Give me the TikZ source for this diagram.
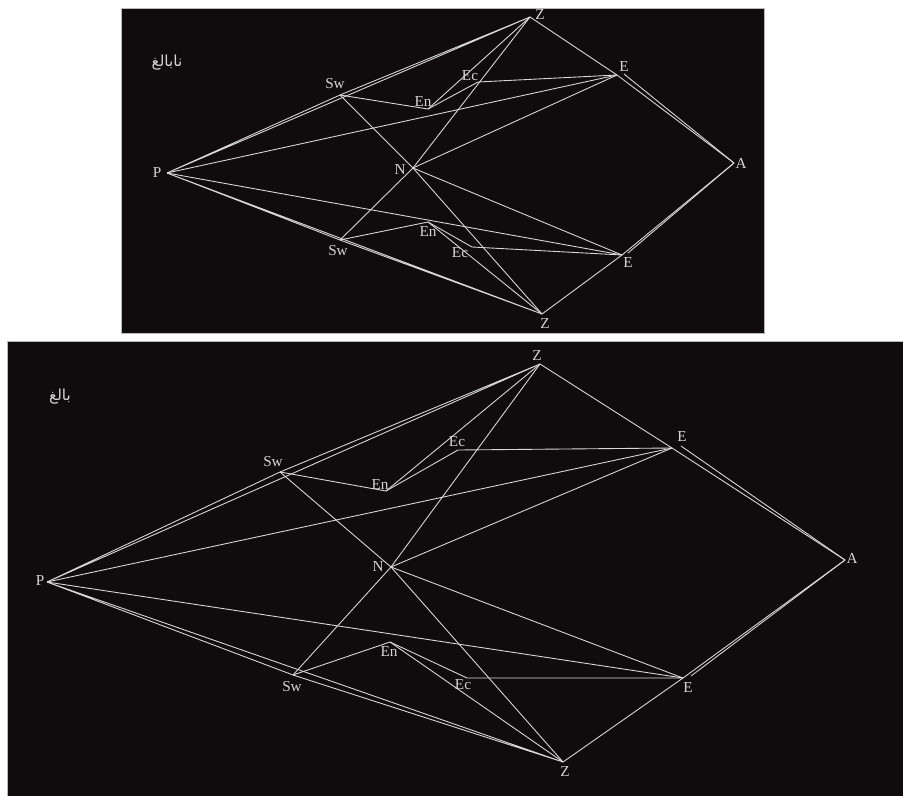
\documentclass[tikz,border=0pt]{standalone}
\usepackage{fontspec}
\usepackage{tikz}
\setmainfont{Liberation Serif}
\newfontfamily\arabicfont[Script=Arabic]{DejaVu Sans}
\TeXXeTstate=1
\definecolor{board}{HTML}{100C0E}
\definecolor{trace}{HTML}{D8D8D8}
\definecolor{mark}{HTML}{D4D4D4}
\tikzset{
  panel/.style={fill=board, draw=gray!55, line width=0.5pt},
  edge/.style={draw=trace, line width=0.75pt},
  lbl/.style={text=mark, inner sep=0pt, font=\fontsize{13}{13}\selectfont},
  tag/.style={text=mark, inner sep=0pt, font=\arabicfont\fontsize{13}{13}\selectfont},
}

\begin{document}
\begin{tikzpicture}[x=0.03cm, y=-0.03cm]

  \useasboundingbox (0,0) rectangle (903,796);
  \path[panel] (121,8) rectangle (764,333);
  \path[panel] (7,341) rectangle (903,796);

  % immature (top)
  \coordinate (tP)    at (167,173);
  \coordinate (tSwu)  at (340,95);
  \coordinate (tEnu)  at (428,109);
  \coordinate (tEcu)  at (478,82);
  \coordinate (tEu)   at (617,75);
  \coordinate (tEu2)  at (624,74);
  \coordinate (tZu)   at (530,17);
  \coordinate (tA)    at (734,163);
  \coordinate (tN)    at (413,168);
  \coordinate (tSwl)  at (340,240);
  \coordinate (tEnl)  at (428,222);
  \coordinate (tEcl)  at (472,247);
  \coordinate (tEl)   at (622,255);
  \coordinate (tEl2)  at (628,253);
  \coordinate (tZl)   at (542,314);

  \node[tag] (tTag) at (167,63) {\beginR نابالغ\endR};
  \node[lbl] (tP-l)   at (157,173) {P};
  \node[lbl] (tSwu-l) at (335,84)  {Sw};
  \node[lbl] (tEnu-l) at (423,102) {En};
  \node[lbl] (tEcu-l) at (470,76)  {Ec};
  \node[lbl] (tEu-l)  at (624,67)  {E};
  \node[lbl] (tZu-l)  at (540,15)  {Z};
  \node[lbl] (tA-l)   at (741,163) {A};
  \node[lbl] (tN-l)   at (400,170) {N};
  \node[lbl] (tSwl-l) at (338,251) {Sw};
  \node[lbl] (tEnl-l) at (428,232) {En};
  \node[lbl] (tEcl-l) at (460,253) {Ec};
  \node[lbl] (tEl-l)  at (628,263) {E};
  \node[lbl] (tZl-l)  at (545,324) {Z};

  \draw[edge] (tP) -- (tZu) (tP) -- (tSwu) -- (tZu);
  \draw[edge] (tSwu) -- (tEnu) -- (tEcu) -- (tEu);
  \draw[edge] (tEnu) -- (tZu);
  \draw[edge] (tP) -- (tEu);
  \draw[edge] (tSwu) -- (tN) -- (tZu);
  \draw[edge] (tN) -- (tEu);
  \draw[edge] (tZu) -- (tEu) -- (tA);
  \draw[edge] (tEu2) -- (tA);
  \draw[edge] (tP) -- (tZl) (tP) -- (tSwl) -- (tZl);
  \draw[edge] (tSwl) -- (tEnl) -- (tEcl) -- (tEl);
  \draw[edge] (tEnl) -- (tZl);
  \draw[edge] (tP) -- (tEl);
  \draw[edge] (tSwl) -- (tN) -- (tZl);
  \draw[edge] (tN) -- (tEl);
  \draw[edge] (tZl) -- (tEl) -- (tA);
  \draw[edge] (tEl2) -- (tA);

  % adult (bottom)
  \coordinate (bP)    at (47,582);
  \coordinate (bSwu)  at (280,472);
  \coordinate (bEnu)  at (386,491);
  \coordinate (bEcu)  at (458,450);
  \coordinate (bEu)   at (672,448);
  \coordinate (bEu2)  at (681,446);
  \coordinate (bZu)   at (540,364);
  \coordinate (bA)    at (845,560);
  \coordinate (bN)    at (391,567);
  \coordinate (bSwl)  at (293,675);
  \coordinate (bEnl)  at (390,642);
  \coordinate (bEcl)  at (467,678);
  \coordinate (bEl)   at (683,678);
  \coordinate (bEl2)  at (691,676);
  \coordinate (bZl)   at (563,762);

  \node[tag] (bTag) at (60,397) {\beginR بالغ\endR};
  \node[lbl] (bP-l)   at (40,581)  {P};
  \node[lbl] (bSwu-l) at (273,462) {Sw};
  \node[lbl] (bEnu-l) at (380,485) {En};
  \node[lbl] (bEcu-l) at (457,442) {Ec};
  \node[lbl] (bEu-l)  at (682,437) {E};
  \node[lbl] (bZu-l)  at (537,356) {Z};
  \node[lbl] (bA-l)   at (852,558) {A};
  \node[lbl] (bN-l)   at (378,567) {N};
  \node[lbl] (bSwl-l) at (292,687) {Sw};
  \node[lbl] (bEnl-l) at (389,652) {En};
  \node[lbl] (bEcl-l) at (463,685) {Ec};
  \node[lbl] (bEl-l)  at (688,688) {E};
  \node[lbl] (bZl-l)  at (565,772) {Z};

  \draw[edge] (bP) -- (bZu) (bP) -- (bSwu) -- (bZu);
  \draw[edge] (bSwu) -- (bEnu) -- (bEcu) -- (bEu);
  \draw[edge] (bEnu) -- (bZu);
  \draw[edge] (bP) -- (bEu);
  \draw[edge] (bSwu) -- (bN) -- (bZu);
  \draw[edge] (bN) -- (bEu);
  \draw[edge] (bZu) -- (bEu) -- (bA);
  \draw[edge] (bEu2) -- (bA);
  \draw[edge] (bP) -- (bZl) (bP) -- (bSwl) -- (bZl);
  \draw[edge] (bSwl) -- (bEnl) -- (bEcl) -- (bEl);
  \draw[edge] (bEnl) -- (bZl);
  \draw[edge] (bP) -- (bEl);
  \draw[edge] (bSwl) -- (bN) -- (bZl);
  \draw[edge] (bN) -- (bEl);
  \draw[edge] (bZl) -- (bEl) -- (bA);
  \draw[edge] (bEl2) -- (bA);

\end{tikzpicture}
\end{document}
